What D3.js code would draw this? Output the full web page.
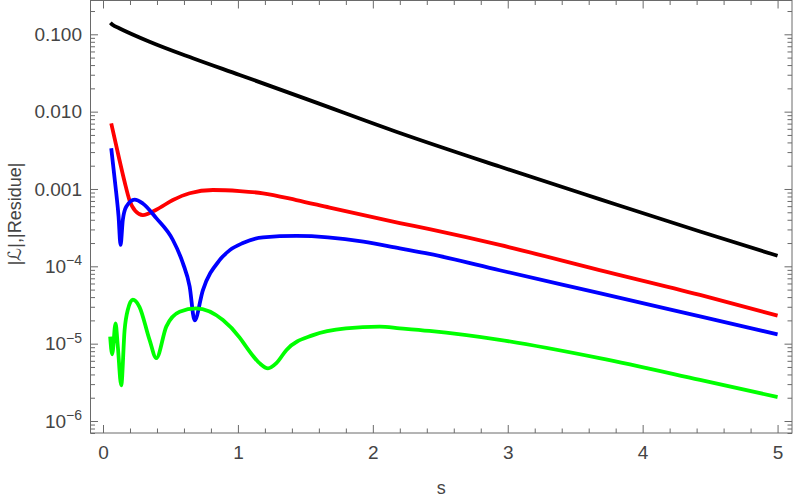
<!DOCTYPE html>
<html>
<head>
<meta charset="utf-8">
<script src="https://cdn.jsdelivr.net/npm/d3@7"></script>
<style>
  html, body { margin: 0; padding: 0; background: #fff; }
  svg text { font-family: "Liberation Sans", Arial, "DejaVu Sans", sans-serif; }
</style>
</head>
<body>
<svg id="chart" width="800" height="500"></svg>
<script>
// ---- data ----
const blackX = [0.055, 0.073, 0.12, 0.345, 0.666, 1.013, 1.53, 2.2, 2.94, 3.68, 4.425, 5.0];
const blackY = [0.141, 0.132, 0.120, 0.0802, 0.0490, 0.0298, 0.0141, 0.0053, 1.95e-3, 7.4e-4, 2.82e-4, 1.37e-4];

const redX = [0.061, 0.122, 0.16, 0.196, 0.24, 0.295, 0.395, 0.518, 0.642, 0.815, 1.013, 1.186, 1.433, 1.68, 2.2, 2.42, 2.94, 3.68, 4.425, 5.0];
const redY = [7.06e-3, 2.37e-3, 1.24e-3, 7.2e-4, 5.2e-4, 4.6e-4, 5.4e-4, 7.2e-4, 8.8e-4, 9.7e-4, 9.4e-4, 8.8e-4, 7.2e-4, 5.75e-4, 3.63e-4, 3.02e-4, 1.89e-4, 8.95e-5, 4.27e-5, 2.3e-5];

const blueX = [0.061, 0.098, 0.115, 0.13, 0.147, 0.172, 0.234, 0.295, 0.395, 0.518, 0.592, 0.642, 0.679, 0.74, 0.864, 0.94, 1.037, 1.186, 1.434, 1.93, 2.2, 2.42, 2.94, 3.68, 4.425, 5.0];
const blueY = [3.36e-3, 8.9e-4, 4.5e-4, 1.89e-4, 4.0e-4, 5.9e-4, 7.3e-4, 6.5e-4, 4.2e-4, 2.19e-4, 1.1e-4, 5.5e-5, 2.0e-5, 4.9e-5, 1.2e-4, 1.62e-4, 2.0e-4, 2.37e-4, 2.47e-4, 2.09e-4, 1.71e-4, 1.45e-4, 8.9e-5, 4.49e-5, 2.25e-5, 1.32e-5];

const greenX = [0.053, 0.068, 0.093, 0.11, 0.135, 0.16, 0.184, 0.221, 0.27, 0.345, 0.395, 0.469, 0.568, 0.691, 0.889, 1.013, 1.062, 1.16, 1.223, 1.285, 1.36, 1.557, 1.8, 2.05, 2.2, 2.42, 2.94, 3.68, 4.425, 5.0];
const greenY = [1.23e-5, 7.3e-6, 1.83e-5, 9.1e-6, 2.9e-6, 1.5e-5, 2.75e-5, 3.7e-5, 3.0e-5, 1.12e-5, 6.5e-6, 1.66e-5, 2.59e-5, 2.86e-5, 2.02e-5, 1.2e-5, 9.1e-6, 5.6e-6, 4.8e-6, 5.6e-6, 8.3e-6, 1.29e-5, 1.58e-5, 1.66e-5, 1.58e-5, 1.46e-5, 1.12e-5, 6.5e-6, 3.4e-6, 2.04e-6];

const xTickValues = [0, 1, 2, 3, 4, 5];
const xTickLabels = ["0", "1", "2", "3", "4", "5"];
const yTickValues = [0.1, 0.01, 0.001, 1e-4, 1e-5, 1e-6];
const yTickLabels = [["0.100", ""], ["0.010", ""], ["0.001", ""], ["10", "\u22124"], ["10", "\u22125"], ["10", "\u22126"]];

const xLabel = "s";
const yLabel = "|\u2112|,|Residue|";

// ---- layout ----
const svg = d3.select("#chart");
const L = 90.5, R = 792, T = 0.5, B = 433;
const frameColor = "#6a6a6a";
const textColor = "#444";

const x = d3.scaleLinear().domain([-0.0927, 5.107]).range([L, R]);
const y = d3.scaleLog().domain([Math.pow(10, -6.155), Math.pow(10, -0.563)]).range([B, T]);

// minor ticks
const xMinor = d3.range(0, 5.11, 0.2).filter(v => Math.abs(v - Math.round(v)) > 1e-6);
const yMinor = [];
for (let e = -7; e <= 0; e++) {
  for (let m = 2; m <= 9; m++) {
    const v = m * Math.pow(10, e);
    if (v >= y.domain()[0] && v <= y.domain()[1]) yMinor.push(v);
  }
}

function styleAxis(g) {
  g.select(".domain").remove();
  g.selectAll(".tick line").attr("stroke", frameColor).attr("stroke-width", 1);
  g.selectAll(".tick text").attr("fill", textColor).attr("font-size", 19);
}

// bottom
svg.append("g").attr("transform", `translate(0,${B})`)
  .call(d3.axisBottom(x).tickValues(xMinor).tickSize(-4.5).tickFormat(""))
  .call(styleAxis);
svg.append("g").attr("transform", `translate(0,${B})`)
  .call(d3.axisBottom(x).tickValues(xTickValues).tickSize(-8).tickPadding(13)
    .tickFormat((d, i) => xTickLabels[i]))
  .call(styleAxis);
// top
svg.append("g").attr("transform", `translate(0,${T})`)
  .call(d3.axisTop(x).tickValues(xMinor).tickSize(-4.5).tickFormat(""))
  .call(styleAxis);
svg.append("g").attr("transform", `translate(0,${T})`)
  .call(d3.axisTop(x).tickValues(xTickValues).tickSize(-8).tickFormat(""))
  .call(styleAxis);
// left
svg.append("g").attr("transform", `translate(${L},0)`)
  .call(d3.axisLeft(y).tickValues(yMinor).tickSize(-4.5).tickFormat(""))
  .call(styleAxis);
const leftMajor = svg.append("g").attr("transform", `translate(${L},0)`)
  .call(d3.axisLeft(y).tickValues(yTickValues).tickSize(-7.5).tickPadding(8.5).tickFormat(""))
  .call(styleAxis);
leftMajor.selectAll(".tick text").each(function(d, i) {
  const t = d3.select(this);
  const [base, sup] = yTickLabels[i];
  t.text(null);
  t.append("tspan").text(base);
  if (sup) {
    t.append("tspan").attr("font-size", 14).attr("dy", "-0.55em").text(sup);
  }
});
// right
svg.append("g").attr("transform", `translate(${R},0)`)
  .call(d3.axisRight(y).tickValues(yMinor).tickSize(-4.5).tickFormat(""))
  .call(styleAxis);
svg.append("g").attr("transform", `translate(${R},0)`)
  .call(d3.axisRight(y).tickValues(yTickValues).tickSize(-7.5).tickFormat(""))
  .call(styleAxis);

// frame
svg.append("rect").attr("x", L).attr("y", T).attr("width", R - L).attr("height", B - T)
  .attr("fill", "none").attr("stroke", frameColor).attr("stroke-width", 1);

// clip
svg.append("clipPath").attr("id", "clip").append("rect")
  .attr("x", L).attr("y", T).attr("width", R - L).attr("height", B - T);

const line = d3.line().x(d => x(d[0])).y(d => y(d[1])).curve(d3.curveMonotoneX);
const series = [
  { xs: blackX, ys: blackY, color: "#000000" },
  { xs: redX, ys: redY, color: "#ff0000" },
  { xs: blueX, ys: blueY, color: "#0000ff" },
  { xs: greenX, ys: greenY, color: "#00ff00" }
];
const plot = svg.append("g").attr("clip-path", "url(#clip)");
const order = [1, 2, 3, 0];
order.forEach(k => {
  const s = series[k];
  plot.append("path")
    .datum(s.xs.map((v, i) => [v, s.ys[i]]))
    .attr("fill", "none").attr("stroke", s.color).attr("stroke-width", 3.8)
    .attr("stroke-linejoin", "round").attr("stroke-linecap", "butt")
    .attr("d", line);
});

// axis labels
svg.append("text").attr("x", (L + R) / 2).attr("y", 494)
  .attr("text-anchor", "middle").attr("fill", textColor).attr("font-size", 18)
  .text(xLabel);
svg.append("text").attr("transform", `translate(21,${214}) rotate(-90)`)
  .attr("text-anchor", "middle").attr("fill", textColor).attr("font-size", 18)
  .text(yLabel);
</script>
</body>
</html>
